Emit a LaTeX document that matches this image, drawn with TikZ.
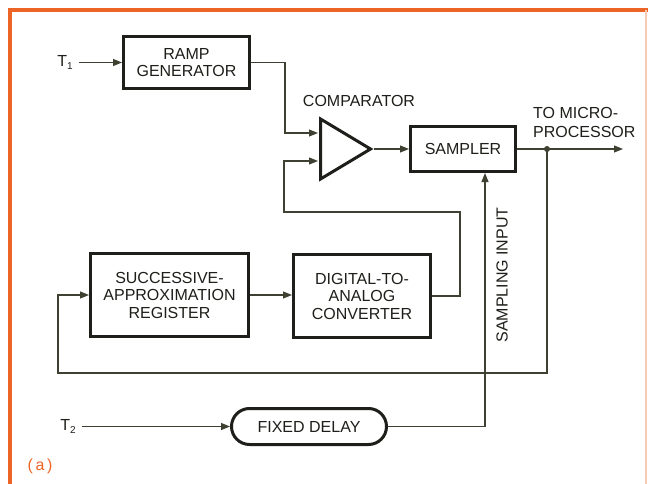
\documentclass[tikz,border=0pt]{standalone}
\usepackage{fontspec}
\setmainfont{Liberation Sans}
\usetikzlibrary{shapes.geometric,shapes.misc,arrows.meta,calc}
\definecolor{frameor}{RGB}{236,100,38}
\definecolor{wire}{RGB}{62,64,50}
\definecolor{ink}{RGB}{30,31,26}
\newcommand{\sub}[1]{\raisebox{-0.35ex}{\fontsize{10}{10}\selectfont #1}}
\begin{document}
\begin{tikzpicture}[x=1pt,y=-1pt,
  blk/.style={draw=ink, line width=3pt, inner sep=0pt, align=center,
    font=\fontsize{16}{17.5}\selectfont, text=ink},
  conn/.style={draw=wire, line width=1.1pt},
  arr/.style={conn, -{Triangle[length=9pt,width=7pt]}},
  lbl/.style={font=\fontsize{16}{17.5}\selectfont, text=ink, inner sep=0pt}]
\useasboundingbox (0,0) rectangle (648,484);
\fill[white] (0,0) rectangle (648,484);
% frame
\draw[frameor, line width=4pt] (10,484) -- (10,10) -- (648,10);
\draw[frameor!35, line width=2pt] (646,10) -- (646,484);

% blocks
\node[blk, minimum width=126, minimum height=52] (ramp) at (186.5,62.5) {RAMP\\GENERATOR};
\node[blk, isosceles triangle, isosceles triangle stretches,
      minimum width=60, minimum height=50, anchor=lower side] (comp) at (319,149) {};
\node[blk, minimum width=105, minimum height=45] (samp) at (463,149) {SAMPLER};
\node[blk, minimum width=158, minimum height=83] (sar) at (169.5,295) {SUCCESSIVE-\\APPROXIMATION\\REGISTER};
\node[blk, minimum width=137, minimum height=83] (dac) at (362,296) {DIGITAL-TO-\\ANALOG\\CONVERTER};
\node[blk, rounded rectangle, minimum width=155, minimum height=36] (delay) at (309,426.5) {FIXED DELAY};

% labels
\node[lbl] (t1) at (65,62.5) {T\sub{1}};
\node[lbl] (t2) at (68,426.5) {T\sub{2}};
\node[lbl] (cmplbl) at (359,101) {COMPARATOR};
\node[lbl, align=left, anchor=west, font=\fontsize{16}{19}\selectfont] (tomp) at (533,122.5) {TO MICRO-\\PROCESSOR};
\node[lbl, rotate=90] (sin) at (502,275) {SAMPLING INPUT};
\node[lbl, text=frameor] (fig) at (40,466) {(\,a\,)};

% named points
\coordinate (cin1) at (318,133);
\coordinate (cin2) at (318,161);
\coordinate (tap) at (547,149);
\coordinate (out) at (623,149);

% connectors
\draw[arr] ([xshift=6pt]t1.east) -- (t1.east -| ramp.west);
\draw[arr] (ramp.east) -- ++(34,0) |- (cin1);
\draw[arr] (dac.east) -- ++(28,0) -- ++(0,-84) -| ($(cin2)+(-34,0)$) -- (cin2);
\draw[arr] (comp.apex) -- (comp.apex -| samp.west);
\draw[arr] (samp.east) -- (out);
\fill[wire] (tap) circle (3pt);
\draw[arr] (tap) |- ($(sar.west)+(-31,78)$) |- (sar.west);
\draw[arr] (sar.east) -- (sar.east -| dac.west);
\draw[arr] ([xshift=6pt]t2.east) -- (t2.east -| delay.west);
\draw[arr] (delay.east) -| ([xshift=22pt]samp.south);
\end{tikzpicture}
\end{document}
